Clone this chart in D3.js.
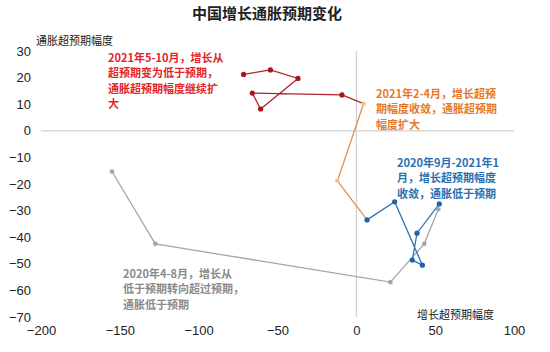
<!DOCTYPE html>
<html><head><meta charset="utf-8">
<script src="https://cdn.jsdelivr.net/npm/d3@7"></script>
<style>
html,body{margin:0;padding:0;background:#fff;}
text{font-family:"Liberation Sans","Noto Sans CJK SC",sans-serif;}
.cn{font-family:"Noto Sans CJK SC","Liberation Sans",sans-serif;}
</style></head>
<body>
<svg id="chart" width="550" height="352"></svg>
<script>
// ---- data ----
const xTicks = [-200, -150, -100, -50, 0, 50, 100];
const yTicks = [30, 20, 10, 0, -10, -20, -30, -40, -50, -60, -70];

// 2020年4-8月 (gray)
const grayX = [-155, -127.5, 21.6, 43.1, 52.0];
const grayY = [-15.3, -42.5, -56.9, -42.5, -29.5];
// 2020年8月-2021年1月 (blue)
const blueX = [52.6, 38.5, 35.5, 41.9, 24.3, 6.8];
const blueY = [-27.5, -38.5, -48.6, -50.5, -26.7, -33.5];
// 2021年1-4月 (orange), first point is link to blue
const orangeX = [6.8, -12.0, 4.6];
const orangeY = [-33.5, -18.8, 10.2];
// 2021年4-10月 (red), first point is link to orange
const redX = [4.6, -9.1, -66.0, -60.7, -37.0, -54.5, -71.5];
const redY = [10.2, 13.5, 14.2, 8.2, 19.7, 22.9, 21.2];

const grayNote = ["2020年4-8月，增长从", "低于预期转向超过预期，", "通胀低于预期"];
const blueNote = ["2020年9月-2021年1", "月，增长超预期幅度", "收敛，通胀低于预期"];
const orangeNote = ["2021年2-4月，增长超预", "期幅度收敛，通胀超预期", "幅度扩大"];
const redNote = ["2021年5-10月，增长从", "超预期变为低于预期，", "通胀超预期幅度继续扩", "大"];

// ---- drawing ----
const svg = d3.select("#chart");
const x = d3.scaleLinear().domain([-200, 100]).range([41, 514]);
const y = d3.scaleLinear().domain([-70, 30]).range([317, 51]);

svg.append("text").attr("class","cn").attr("x", 267).attr("y", 19)
  .attr("text-anchor","middle").attr("font-size", 15).attr("font-weight","bold")
  .attr("fill","#222").text("中国增长通胀预期变化");

// zero lines
svg.append("line").attr("x1", x(-200)).attr("x2", x(100)).attr("y1", y(0)).attr("y2", y(0))
  .attr("stroke","#d0d0d0").attr("stroke-width",1.2);
svg.append("line").attr("x1", x(0)).attr("x2", x(0)).attr("y1", y(30)).attr("y2", y(-70))
  .attr("stroke","#d0d0d0").attr("stroke-width",1.2);

// axes (labels only)
const yAxis = d3.axisLeft(y).tickValues(yTicks).tickSize(0).tickPadding(0);
const gy = svg.append("g").attr("transform","translate(31,0)").call(yAxis);
gy.select(".domain").remove();
gy.selectAll("text").attr("font-size",13).attr("fill","#222")
  .style("font-family","'Liberation Sans',sans-serif");

const xAxis = d3.axisBottom(x).tickValues(xTicks).tickSize(0).tickPadding(0);
const gx = svg.append("g").attr("transform","translate(0,326)").call(xAxis);
gx.select(".domain").remove();
gx.selectAll("text").attr("font-size",13).attr("fill","#222")
  .style("font-family","'Liberation Sans',sans-serif");

svg.append("text").attr("class","cn").attr("x", 36).attr("y", 45)
  .attr("font-size", 11).attr("fill","#222").text("通胀超预期幅度");
svg.append("text").attr("class","cn").attr("x", 417).attr("y", 319)
  .attr("font-size", 11).attr("fill","#222").text("增长超预期幅度");

const series = [
  {xs: grayX, ys: grayY, line:"#a6a6a6", mark:"#a6a6a6", r:2.3, skipFirst:false},
  {xs: blueX, ys: blueY, line:"#2e75b6", mark:"#1f64a8", r:2.6, skipFirst:false},
  {xs: orangeX, ys: orangeY, line:"#e0904f", mark:"#f5bf95", r:2.3, skipFirst:true},
  {xs: redX, ys: redY, line:"#b0232a", mark:"#a8141b", r:2.6, skipFirst:true}
];
const lineGen = d3.line().x(d => x(d[0])).y(d => y(d[1]));
series.forEach(s => {
  const pts = s.xs.map((v,i) => [v, s.ys[i]]);
  svg.append("path").datum(pts).attr("d", lineGen).attr("fill","none")
    .attr("stroke", s.line).attr("stroke-width", 1.3);
});
series.forEach(s => {
  const pts = s.xs.map((v,i) => [v, s.ys[i]]).filter((p,i) => !(s.skipFirst && i === 0));
  svg.selectAll(null).data(pts).enter().append("circle")
    .attr("cx", d => x(d[0])).attr("cy", d => y(d[1])).attr("r", s.r)
    .attr("fill", s.mark);
});

function note(lines, x0, y0, color){
  const t = svg.append("text").attr("class","cn").attr("font-size",11)
    .attr("font-weight","bold").attr("fill",color);
  lines.forEach((l,i) => t.append("tspan").attr("x",x0).attr("y",y0 + i*15.3).text(l));
}
note(redNote, 108, 62, "#e3242b");
note(orangeNote, 376, 98, "#e3792b");
note(blueNote, 397, 167, "#2a6fb0");
note(grayNote, 123, 278, "#8a8a8a");
</script>
</body></html>
